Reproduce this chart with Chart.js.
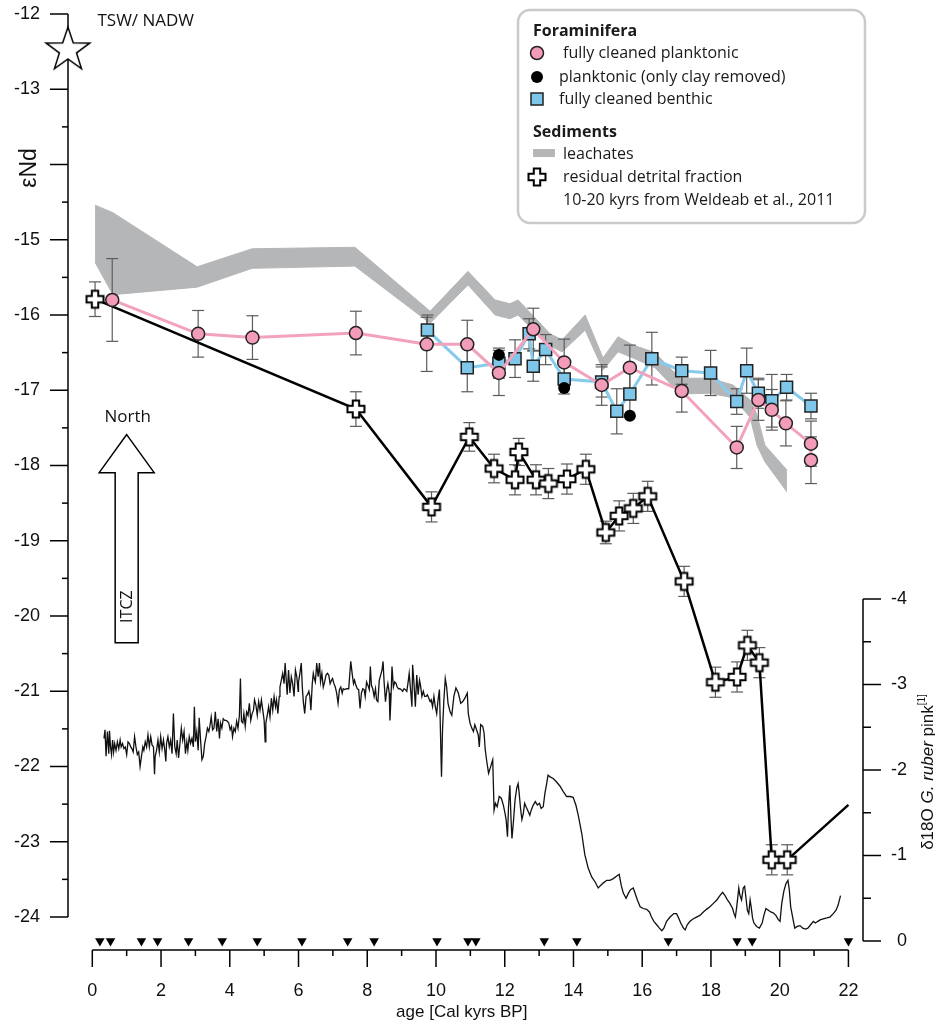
<!DOCTYPE html>
<html>
<head>
<meta charset="utf-8">
<title>εNd record</title>
<script src="https://cdn.jsdelivr.net/npm/chart.js@4.4.0/dist/chart.umd.min.js"></script>
<style>
  html, body { margin: 0; padding: 0; background: #fff; }
  #wrap { width: 935px; height: 1021px; }
</style>
</head>
<body>
<div id="wrap"><canvas id="ndChart" width="935" height="1021"></canvas></div>
<script>
// tick labels (-14 is left out, the axis title sits there)
const ageTicks = [0, 2, 4, 6, 8, 10, 12, 14, 16, 18, 20, 22];
const ndTicks = [-12, -13, -15, -16, -17, -18, -19, -20, -21, -22, -23, -24];
const d18oTicks = [-4, -3, -2, -1, 0];

// sediment leachates (band)
const leachAge = [0.08, 0.60, 3.05, 4.65, 7.64, 9.83, 10.93, 11.72, 12.15, 12.39, 12.74, 13.32, 13.67, 14.34, 14.86, 15.30, 15.73, 16.37, 17.10, 17.97, 18.64, 19.14, 19.34, 19.57, 20.21];
const leachTop = [-14.54, -14.64, -15.36, -15.12, -15.10, -15.95, -15.42, -15.80, -15.85, -15.80, -15.97, -16.25, -16.33, -16.00, -16.57, -16.29, -16.40, -16.50, -16.84, -16.84, -16.93, -17.13, -17.33, -17.73, -18.06];
const leachBottom = [-15.30, -15.73, -15.63, -15.38, -15.35, -16.11, -15.60, -16.00, -16.05, -16.00, -16.16, -16.41, -16.49, -16.20, -16.73, -16.49, -16.57, -16.70, -17.05, -17.04, -17.10, -17.36, -17.73, -17.95, -18.35];

// fully cleaned planktonic foraminifera
const plankAge = [0.58, 3.08, 4.66, 7.67, 9.73, 10.91, 11.83, 12.83, 13.73, 14.82, 15.64, 17.15, 18.75, 19.38, 19.77, 20.18, 20.91, 20.91];
const plankNd = [-15.80, -16.25, -16.30, -16.24, -16.39, -16.39, -16.77, -16.19, -16.63, -16.93, -16.70, -17.01, -17.76, -17.13, -17.26, -17.44, -17.71, -17.93];
const plankErr = [0.55, 0.31, 0.29, 0.29, 0.36, 0.32, 0.30, 0.28, 0.31, 0.27, 0.30, 0.28, 0.28, 0.27, 0.27, 0.30, 0.30, 0.31];

// planktonic, only clay removed
const clayAge = [11.83, 13.73, 15.64];
const clayNd = [-16.53, -16.97, -17.34];

// fully cleaned benthic foraminifera
const benthAge = [9.75, 10.91, 11.83, 12.30, 12.71, 12.83, 13.19, 13.73, 14.82, 15.26, 15.64, 16.28, 17.15, 17.99, 18.75, 19.04, 19.38, 19.77, 20.20, 20.91];
const benthNd = [-16.20, -16.70, -16.64, -16.58, -16.25, -16.68, -16.46, -16.85, -16.89, -17.28, -17.05, -16.58, -16.74, -16.77, -17.15, -16.74, -17.04, -17.14, -16.96, -17.21];
const benthErr = [0.20, 0.32, 0.20, 0.25, 0.20, 0.20, 0.20, 0.20, 0.20, 0.30, 0.30, 0.35, 0.18, 0.30, 0.17, 0.30, 0.20, 0.35, 0.17, 0.17];

// residual detrital fraction (last value: line end, no marker)
const detritalAge = [0.08, 7.67, 9.87, 10.97, 11.69, 12.30, 12.41, 12.91, 13.27, 13.81, 14.36, 14.94, 15.33, 15.74, 16.16, 17.22, 18.13, 18.76, 19.06, 19.41, 19.77, 20.22, 22.00];
const detritalNd = [-15.79, -17.25, -18.55, -17.62, -18.04, -18.19, -17.82, -18.19, -18.24, -18.18, -18.05, -18.89, -18.67, -18.57, -18.41, -19.54, -20.88, -20.81, -20.39, -20.62, -23.24, -23.24, -22.51];
const detritalErr = [0.23, 0.23, 0.20, 0.19, 0.19, 0.20, 0.18, 0.20, 0.20, 0.20, 0.20, 0.15, 0.20, 0.20, 0.20, 0.20, 0.20, 0.20, 0.20, 0.20, 0.20, 0.20, null];

// TSW / NADW end member
const nadwNd = -12.48;

// age control points
const ageControl = [0.22, 0.53, 1.43, 1.90, 2.80, 3.78, 4.80, 6.10, 7.43, 8.20, 10.03, 10.93, 11.16, 13.15, 14.10, 16.76, 18.76, 19.20, 22.00];

// d18O G. ruber pink, [age, permil]
const d18oRecord = [
  [0.34,-2.37],[0.37,-2.47],[0.40,-2.16],[0.44,-2.45],[0.48,-2.19],[0.50,-2.46],[0.53,-2.27],[0.56,-2.18],[0.59,-2.35],[0.62,-2.21],
  [0.65,-2.31],[0.69,-2.23],[0.73,-2.33],[0.77,-2.25],[0.81,-2.35],[0.84,-2.27],[0.88,-2.31],[0.92,-2.25],[0.96,-2.27],[1.00,-2.18],
  [1.04,-2.33],[1.08,-2.31],[1.12,-2.27],[1.15,-2.25],[1.19,-2.21],[1.23,-2.39],[1.27,-2.27],[1.31,-2.18],[1.35,-2.21],[1.39,-2.04],
  [1.43,-2.16],[1.47,-2.27],[1.50,-2.23],[1.54,-2.33],[1.58,-2.27],[1.62,-2.41],[1.66,-2.27],[1.70,-2.39],[1.74,-2.29],[1.78,-2.27],
  [1.81,-1.95],[1.83,-2.16],[1.87,-2.23],[1.91,-2.35],[1.95,-2.21],[1.99,-2.39],[2.03,-2.25],[2.07,-2.35],[2.11,-2.23],[2.14,-2.10],
  [2.16,-2.31],[2.20,-2.39],[2.24,-2.27],[2.28,-2.35],[2.32,-2.19],[2.36,-2.66],[2.40,-2.27],[2.44,-2.19],[2.47,-2.35],[2.51,-2.14],
  [2.55,-2.31],[2.59,-2.49],[2.63,-2.35],[2.67,-2.45],[2.71,-2.19],[2.75,-2.33],[2.78,-2.23],[2.82,-2.39],[2.86,-2.31],[2.90,-2.37],
  [2.94,-2.27],[2.97,-2.74],[3.00,-2.33],[3.04,-2.45],[3.08,-2.23],[3.11,-2.61],[3.15,-2.35],[3.19,-2.12],[3.23,-2.16],[3.27,-2.31],
  [3.31,-2.39],[3.35,-2.49],[3.39,-2.45],[3.42,-2.51],[3.46,-2.62],[3.50,-2.47],[3.54,-2.49],[3.58,-2.68],[3.62,-2.45],[3.66,-2.60],
  [3.70,-2.37],[3.73,-2.55],[3.77,-2.49],[3.81,-2.60],[3.85,-2.58],[3.89,-2.58],[3.93,-2.57],[3.97,-2.55],[4.01,-2.47],[4.05,-2.51],
  [4.08,-2.39],[4.12,-2.49],[4.16,-2.45],[4.20,-2.57],[4.24,-2.49],[4.28,-2.64],[4.31,-3.07],[4.34,-2.57],[4.38,-2.55],[4.41,-2.66],
  [4.45,-2.51],[4.49,-2.68],[4.53,-2.64],[4.57,-2.78],[4.61,-2.58],[4.65,-2.66],[4.69,-2.70],[4.72,-2.82],[4.76,-2.76],[4.80,-2.64],
  [4.84,-2.80],[4.88,-2.70],[4.92,-2.82],[4.96,-2.70],[5.00,-2.58],[5.03,-2.33],[5.05,-2.55],[5.09,-2.64],[5.13,-2.74],[5.17,-2.62],
  [5.21,-2.84],[5.25,-2.70],[5.29,-2.86],[5.33,-2.74],[5.36,-2.82],[5.40,-2.66],[5.44,-2.86],[5.46,-2.97],[5.50,-3.05],[5.54,-3.13],
  [5.58,-3.01],[5.61,-3.25],[5.64,-3.07],[5.67,-2.88],[5.71,-3.17],[5.75,-2.90],[5.79,-3.09],[5.83,-3.01],[5.87,-2.86],[5.91,-3.17],
  [5.95,-3.09],[5.99,-2.92],[6.00,-3.03],[6.04,-3.13],[6.08,-3.25],[6.11,-2.97],[6.14,-2.80],[6.18,-2.66],[6.22,-2.86],[6.26,-2.88],
  [6.30,-2.92],[6.33,-2.86],[6.36,-2.70],[6.40,-3.01],[6.43,-3.13],[6.46,-3.07],[6.49,-3.03],[6.53,-3.25],[6.57,-3.09],[6.61,-3.25],
  [6.64,-3.03],[6.68,-3.13],[6.72,-2.97],[6.76,-3.03],[6.80,-3.11],[6.84,-3.13],[6.88,-3.11],[6.92,-3.01],[6.96,-3.05],[6.99,-3.07],
  [7.03,-3.01],[7.07,-2.97],[7.11,-2.90],[7.15,-2.78],[7.19,-2.94],[7.23,-2.97],[7.27,-2.90],[7.30,-2.95],[7.34,-2.94],[7.40,-2.95],
  [7.46,-2.95],[7.52,-3.27],[7.56,-3.13],[7.60,-3.01],[7.63,-3.05],[7.67,-2.99],[7.71,-2.95],[7.75,-2.94],[7.79,-2.72],[7.83,-2.90],
  [7.87,-2.95],[7.91,-2.94],[7.94,-2.86],[7.98,-3.03],[8.02,-2.99],[8.06,-2.94],[8.09,-3.21],[8.12,-2.99],[8.16,-2.95],[8.20,-2.86],
  [8.24,-2.95],[8.27,-2.82],[8.31,-2.80],[8.35,-3.05],[8.39,-3.11],[8.43,-3.17],[8.46,-3.27],[8.49,-3.03],[8.53,-2.80],[8.57,-2.94],
  [8.60,-3.01],[8.64,-2.90],[8.66,-2.58],[8.69,-2.84],[8.72,-3.21],[8.76,-2.97],[8.80,-3.03],[8.84,-3.01],[8.87,-2.97],[8.91,-2.95],
  [8.95,-2.95],[8.99,-2.94],[9.03,-2.92],[9.07,-2.95],[9.11,-2.94],[9.15,-2.92],[9.19,-3.03],[9.22,-3.13],[9.26,-2.94],[9.30,-2.74],
  [9.32,-3.23],[9.36,-3.01],[9.40,-2.74],[9.44,-3.11],[9.48,-2.88],[9.52,-3.05],[9.55,-2.99],[9.59,-2.86],[9.63,-2.92],[9.67,-2.86],
  [9.71,-2.86],[9.75,-2.88],[9.79,-2.84],[9.83,-2.80],[9.86,-2.82],[9.90,-2.74],[9.94,-2.86],[9.98,-2.74],[10.02,-2.66],[10.06,-2.82],
  [10.10,-2.94],[10.12,-2.62],[10.16,-1.92],[10.19,-2.47],[10.23,-2.82],[10.27,-3.07],[10.31,-2.97],[10.35,-2.78],
  [10.41,-2.68],[10.46,-2.64],[10.52,-2.86],[10.58,-2.96],[10.65,-2.90],[10.72,-2.78],[10.78,-2.80],[10.84,-2.84],[10.91,-2.90],[10.94,-2.66],
  [10.99,-2.55],[11.04,-2.49],[11.09,-2.45],[11.13,-2.53],[11.18,-2.47],[11.23,-2.41],[11.26,-2.27],[11.30,-2.53],[11.36,-2.51],[11.40,-2.43],
  [11.43,-2.25],[11.47,-2.12],[11.53,-1.96],[11.59,-2.04],[11.65,-2.12],[11.69,-1.53],[11.73,-1.61],[11.78,-1.57],[11.84,-1.69],[11.90,-1.67],
  [11.96,-1.59],[12.01,-1.49],[12.04,-1.42],[12.08,-1.22],[12.11,-1.57],[12.15,-1.82],[12.18,-1.45],[12.21,-1.20],[12.25,-1.38],[12.30,-1.65],
  [12.35,-1.79],[12.39,-1.84],[12.42,-1.73],[12.46,-1.55],[12.50,-1.42],[12.54,-1.49],[12.58,-1.61],[12.62,-1.57],[12.69,-1.51],[12.73,-1.47],
  [12.77,-1.53],[12.83,-1.59],[12.89,-1.63],[12.95,-1.59],[13.01,-1.61],[13.06,-1.55],[13.12,-1.57],[13.17,-1.73],[13.22,-1.84],[13.26,-1.94],
  [13.32,-1.92],[13.41,-1.90],[13.51,-1.86],[13.61,-1.81],[13.70,-1.75],[13.80,-1.69],[13.90,-1.69],[13.99,-1.68],[14.07,-1.59],[14.14,-1.47],
  [14.24,-1.26],[14.33,-1.01],[14.43,-0.85],[14.53,-0.75],[14.63,-0.69],[14.72,-0.62],[14.79,-0.65],[14.87,-0.68],[14.97,-0.71],[15.06,-0.71],
  [15.16,-0.73],[15.26,-0.76],[15.33,-0.78],[15.39,-0.65],[15.45,-0.56],[15.53,-0.50],[15.60,-0.56],[15.66,-0.60],[15.74,-0.62],[15.80,-0.55],
  [15.86,-0.48],[15.94,-0.40],[16.03,-0.38],[16.13,-0.37],[16.21,-0.34],[16.27,-0.28],[16.34,-0.23],[16.42,-0.19],[16.50,-0.15],[16.57,-0.12],
  [16.63,-0.15],[16.71,-0.23],[16.81,-0.28],[16.92,-0.32],[17.00,-0.32],[17.06,-0.27],[17.12,-0.21],[17.20,-0.15],[17.25,-0.13],[17.31,-0.19],
  [17.39,-0.23],[17.49,-0.26],[17.58,-0.28],[17.68,-0.30],[17.78,-0.34],[17.87,-0.37],[17.97,-0.40],[18.07,-0.44],[18.17,-0.48],[18.26,-0.53],
  [18.34,-0.57],[18.41,-0.53],[18.48,-0.48],[18.55,-0.44],[18.63,-0.38],[18.67,-0.32],[18.71,-0.28],[18.75,-0.40],[18.81,-0.62],[18.84,-0.54],
  [18.89,-0.48],[18.94,-0.62],[18.98,-0.64],[19.02,-0.50],[19.06,-0.36],[19.10,-0.32],[19.14,-0.48],[19.17,-0.40],[19.21,-0.27],[19.25,-0.21],
  [19.33,-0.17],[19.41,-0.15],[19.49,-0.21],[19.54,-0.30],[19.60,-0.38],[19.67,-0.36],[19.74,-0.34],[19.81,-0.33],[19.89,-0.30],[19.96,-0.25],
  [20.01,-0.23],[20.06,-0.44],[20.12,-0.58],[20.18,-0.67],[20.24,-0.71],[20.28,-0.60],[20.32,-0.40],[20.40,-0.23],[20.44,-0.15],[20.51,-0.17],
  [20.59,-0.18],[20.67,-0.15],[20.75,-0.14],[20.82,-0.15],[20.90,-0.19],[20.98,-0.23],[21.04,-0.21],[21.11,-0.23],[21.19,-0.25],[21.27,-0.26],
  [21.37,-0.27],[21.46,-0.28],[21.56,-0.32],[21.64,-0.36],[21.70,-0.42],[21.77,-0.53]
];

const PINK = '#F29CB8';
const PINK_LINE = '#F3A2BD';
const BLUE = '#7EC7EA';
const BLUE_LINE = '#86CBEC';
const BAND = '#B5B6B8';
const ERR = '#5c5c5c';
const TICK_FONT = '18px "Liberation Sans", Arial, sans-serif';
const TITLE_FONT = '17px "Liberation Sans", Arial, sans-serif';
const NOTE_FONT = '16px "Open Sans", sans-serif';
const LABEL_FONT = '17px "Open Sans", sans-serif';

const toXY = (xs, ys) => xs.map((x, i) => ({ x: x, y: ys[i] }));

// outlined cross marker
function makeCross() {
    const c = document.createElement('canvas');
    c.width = c.height = 22;
    const g = c.getContext('2d');
    const m = 11, a = 8.5, w = 3.2;
    g.beginPath();
    g.moveTo(m - w, m - a); g.lineTo(m + w, m - a); g.lineTo(m + w, m - w);
    g.lineTo(m + a, m - w); g.lineTo(m + a, m + w); g.lineTo(m + w, m + w);
    g.lineTo(m + w, m + a); g.lineTo(m - w, m + a); g.lineTo(m - w, m + w);
    g.lineTo(m - a, m + w); g.lineTo(m - a, m - w); g.lineTo(m - w, m - w);
    g.closePath();
    g.fillStyle = '#fff';
    g.fill();
    g.lineWidth = 2;
    g.strokeStyle = '#000';
    g.stroke();
    return c;
}

// five-pointed open star
function makeStar() {
    const c = document.createElement('canvas');
    c.width = c.height = 52;
    const g = c.getContext('2d');
    const R = 23, r = 9;
    g.beginPath();
    for (let i = 0; i < 10; i++) {
        const rad = -Math.PI / 2 + i * Math.PI / 5;
        const rr = i % 2 ? r : R;
        g.lineTo(26 + rr * Math.cos(rad), 26 + rr * Math.sin(rad));
    }
    g.closePath();
    g.fillStyle = '#fff';
    g.fill();
    g.lineWidth = 1.5;
    g.strokeStyle = '#000';
    g.stroke();
    return c;
}

const crossImg = makeCross();
const starImg = makeStar();

function line(g, x1, y1, x2, y2) {
    g.beginPath();
    g.moveTo(x1, y1);
    g.lineTo(x2, y2);
    g.stroke();
}

function drawErrors(g, xs, ys, ages, vals, errs) {
    ages.forEach((a, i) => {
        const e = errs[i];
        if (e == null) return;
        const x = xs.getPixelForValue(a);
        const y1 = ys.getPixelForValue(vals[i] + e);
        const y2 = ys.getPixelForValue(vals[i] - e);
        line(g, x, y1, x, y2);
        line(g, x - 6, y1, x + 6, y1);
        line(g, x - 6, y2, x + 6, y2);
    });
}

// error bars sit on top of the leachate band but under every marker
const errorBars = {
    id: 'errorBars',
    afterDatasetDraw(chart, args) {
        if (chart.data.datasets[args.index].label !== 'leachates') return;
        const g = chart.ctx;
        const xs = chart.scales.x, ys = chart.scales.y;
        g.save();
        g.strokeStyle = ERR;
        g.lineWidth = 1.2;
        drawErrors(g, xs, ys, plankAge, plankNd, plankErr);
        drawErrors(g, xs, ys, benthAge, benthNd, benthErr);
        drawErrors(g, xs, ys, detritalAge, detritalNd, detritalErr);
        g.restore();
    }
};

// three separate axes, drawn under the data so the star covers the εNd axis
const axes = {
    id: 'axes',
    beforeDatasetsDraw(chart) {
        const g = chart.ctx, area = chart.chartArea;
        const xs = chart.scales.x, yl = chart.scales.y, yr = chart.scales.y2;
        g.save();
        g.strokeStyle = '#000';
        g.fillStyle = '#111';
        g.lineWidth = 1.5;

        // left εNd axis
        const lx = area.left;
        const top = ndTicks[0], bot = ndTicks[ndTicks.length - 1];
        line(g, lx, yl.getPixelForValue(top), lx, yl.getPixelForValue(bot));
        for (let v = top; v >= bot; v -= 0.5) {
            const y = yl.getPixelForValue(v);
            line(g, lx - (Number.isInteger(v) ? 18 : 6), y, lx, y);
        }
        g.font = TICK_FONT;
        g.textAlign = 'right';
        g.textBaseline = 'middle';
        ndTicks.forEach(v => g.fillText(String(v), lx - 28, yl.getPixelForValue(v)));

        g.save();
        g.translate(30, 168);
        g.rotate(-Math.PI / 2);
        g.textAlign = 'center';
        g.font = '23px "Liberation Sans", Arial, sans-serif';
        g.fillText('εNd', 0, 0);
        g.restore();

        // age axis
        const by = area.bottom + 9;
        line(g, xs.getPixelForValue(0), by, xs.getPixelForValue(22), by);
        for (let a = 0; a <= 22; a++) {
            const x = xs.getPixelForValue(a);
            line(g, x, by, x, by + (a % 2 ? 6 : 17));
        }
        g.textAlign = 'center';
        ageTicks.forEach(a => g.fillText(String(a), xs.getPixelForValue(a), by + 41));
        g.font = TITLE_FONT;
        g.fillText('age [Cal kyrs BP]', xs.getPixelForValue(10.75), by + 62);

        // right d18O axis
        const rx = area.right;
        line(g, rx, yr.getPixelForValue(-4), rx, yr.getPixelForValue(0));
        for (let v = -4; v <= 0; v += 0.5) {
            const y = yr.getPixelForValue(v);
            line(g, rx, y, rx + (Number.isInteger(v) ? 18 : 8), y);
        }
        g.font = TICK_FONT;
        g.textAlign = 'right';
        d18oTicks.forEach(v => g.fillText(String(v), rx + 44, yr.getPixelForValue(v)));

        const parts = [
            ['δ18O ', TITLE_FONT, 0],
            ['G. ruber', 'italic ' + TITLE_FONT, 0],
            [' pink', TITLE_FONT, 0],
            ['[1]', '10px "Liberation Sans", Arial, sans-serif', -6]
        ];
        let total = 0;
        parts.forEach(p => { g.font = p[1]; total += g.measureText(p[0]).width; });
        g.save();
        g.translate(rx + 65, 772);
        g.rotate(-Math.PI / 2);
        g.textAlign = 'left';
        let cx = -total / 2;
        parts.forEach(p => {
            g.font = p[1];
            g.fillText(p[0], cx, p[2]);
            cx += g.measureText(p[0]).width;
        });
        g.restore();
        g.restore();
    }
};

function drawLegend(g) {
    const bx = 518, by = 10, bw = 347, bh = 213, r = 12;
    g.beginPath();
    g.moveTo(bx + r, by);
    g.arcTo(bx + bw, by, bx + bw, by + bh, r);
    g.arcTo(bx + bw, by + bh, bx, by + bh, r);
    g.arcTo(bx, by + bh, bx, by, r);
    g.arcTo(bx, by, bx + bw, by, r);
    g.closePath();
    g.fillStyle = '#fff';
    g.fill();
    g.lineWidth = 2.5;
    g.strokeStyle = '#cacaca';
    g.stroke();

    g.textAlign = 'left';
    g.textBaseline = 'middle';
    g.fillStyle = '#1a1a1a';
    g.font = 'bold ' + NOTE_FONT;
    g.fillText('Foraminifera', 533, 31);
    g.fillText('Sediments', 533, 132);

    g.lineWidth = 1.5;
    g.strokeStyle = '#222';
    g.beginPath();
    g.arc(537, 53, 6.5, 0, Math.PI * 2);
    g.fillStyle = PINK;
    g.fill();
    g.stroke();

    g.beginPath();
    g.arc(537, 77, 6, 0, Math.PI * 2);
    g.fillStyle = '#000';
    g.fill();

    g.fillStyle = BLUE;
    g.fillRect(531, 93, 12, 12);
    g.strokeRect(531, 93, 12, 12);

    g.fillStyle = BAND;
    g.fillRect(533, 149, 22, 8);

    g.drawImage(crossImg, 537 - 11, 177 - 11);

    g.fillStyle = '#1a1a1a';
    g.font = NOTE_FONT;
    g.fillText('fully cleaned planktonic', 563, 53);
    g.fillText('planktonic (only clay removed)', 559, 77);
    g.fillText('fully cleaned benthic', 559, 99);
    g.fillText('leachates', 563, 154);
    g.fillText('residual detrital fraction', 563, 177);
    g.fillText('10-20 kyrs from Weldeab et al., 2011', 563, 200);
}

// labels, the ITCZ arrow and the legend box
const notes = {
    id: 'notes',
    afterDraw(chart) {
        const g = chart.ctx;
        const xs = chart.scales.x, yl = chart.scales.y;
        g.save();
        g.strokeStyle = '#000';
        g.fillStyle = '#111';
        g.lineWidth = 1.5;
        g.textBaseline = 'middle';

        g.font = LABEL_FONT;
        g.textAlign = 'left';
        g.fillText('TSW/ NADW', xs.getPixelForValue(0.15), yl.getPixelForValue(-12.1));

        // ITCZ arrow
        const ax = xs.getPixelForValue(1.0);
        const tip = yl.getPixelForValue(-17.59);
        const base = tip + 38, bottom = tip + 208;
        g.beginPath();
        g.moveTo(ax, tip);
        g.lineTo(ax + 27.5, base);
        g.lineTo(ax + 11.5, base);
        g.lineTo(ax + 11.5, bottom);
        g.lineTo(ax - 11.5, bottom);
        g.lineTo(ax - 11.5, base);
        g.lineTo(ax - 27.5, base);
        g.closePath();
        g.fillStyle = '#fff';
        g.fill();
        g.stroke();
        g.fillStyle = '#111';
        g.textAlign = 'center';
        g.fillText('North', ax + 1, tip - 17);
        g.font = NOTE_FONT;
        g.save();
        g.translate(ax + 1, bottom - 36);
        g.rotate(-Math.PI / 2);
        g.fillText('ITCZ', 0, 0);
        g.restore();

        drawLegend(g);
        g.restore();
    }
};

const ctx = document.getElementById('ndChart').getContext('2d');

new Chart(ctx, {
    type: 'line',
    data: {
        datasets: [
            {
                label: 'leachates-base',
                data: toXY(leachAge, leachBottom),
                borderColor: BAND,
                borderWidth: 1,
                pointRadius: 0,
                fill: false,
                order: 21
            },
            {
                label: 'leachates',
                data: toXY(leachAge, leachTop),
                borderColor: BAND,
                borderWidth: 1,
                backgroundColor: BAND,
                pointRadius: 0,
                fill: '-1',
                order: 20
            },
            {
                label: 'd18O',
                data: d18oRecord.map(p => ({ x: p[0], y: p[1] })),
                yAxisID: 'y2',
                borderColor: '#111',
                borderWidth: 1.3,
                pointRadius: 0,
                order: 15
            },
            {
                label: 'residual detrital fraction',
                data: toXY(detritalAge, detritalNd),
                borderColor: '#000',
                borderWidth: 2.5,
                pointStyle: crossImg,
                pointRadius: c => (c.dataIndex === detritalAge.length - 1 ? 0 : 9),
                order: 8
            },
            {
                label: 'fully cleaned benthic',
                data: toXY(benthAge, benthNd),
                borderColor: BLUE_LINE,
                borderWidth: 3,
                pointStyle: 'rect',
                pointRadius: 8.5,
                pointBackgroundColor: BLUE,
                pointBorderColor: '#222',
                pointBorderWidth: 1.5,
                order: 6
            },
            {
                label: 'fully cleaned planktonic',
                data: toXY(plankAge, plankNd),
                borderColor: PINK_LINE,
                borderWidth: 3,
                pointStyle: 'circle',
                pointRadius: 6.5,
                pointBackgroundColor: PINK,
                pointBorderColor: '#222',
                pointBorderWidth: 1.5,
                order: 5
            },
            {
                label: 'planktonic (only clay removed)',
                data: toXY(clayAge, clayNd),
                showLine: false,
                pointRadius: 6,
                pointBackgroundColor: '#000',
                pointBorderWidth: 0,
                order: 4
            },
            {
                label: 'age control',
                data: ageControl.map(a => ({ x: a, y: 0 })),
                yAxisID: 'y2',
                showLine: false,
                pointStyle: 'triangle',
                rotation: 180,
                pointRadius: 5.5,
                pointBackgroundColor: '#000',
                pointBorderWidth: 0,
                clip: false,
                order: 3
            },
            {
                label: 'TSW/ NADW',
                data: [{ x: -0.71, y: nadwNd }],
                showLine: false,
                pointStyle: starImg,
                pointRadius: 23,
                clip: false,
                order: 2
            }
        ]
    },
    options: {
        responsive: false,
        devicePixelRatio: 1,
        animation: false,
        events: [],
        layout: { autoPadding: false, padding: { left: 68, right: 72, top: 14, bottom: 80 } },
        scales: {
            x: { type: 'linear', min: -0.707, max: 22.424, display: false },
            y: { type: 'linear', min: -24.319, max: -12, display: false },
            y2: { type: 'linear', min: -10.842, max: 0, reverse: true, display: false }
        },
        plugins: {
            legend: { display: false },
            tooltip: { enabled: false }
        }
    },
    plugins: [axes, errorBars, notes]
});
</script>
</body>
</html>
